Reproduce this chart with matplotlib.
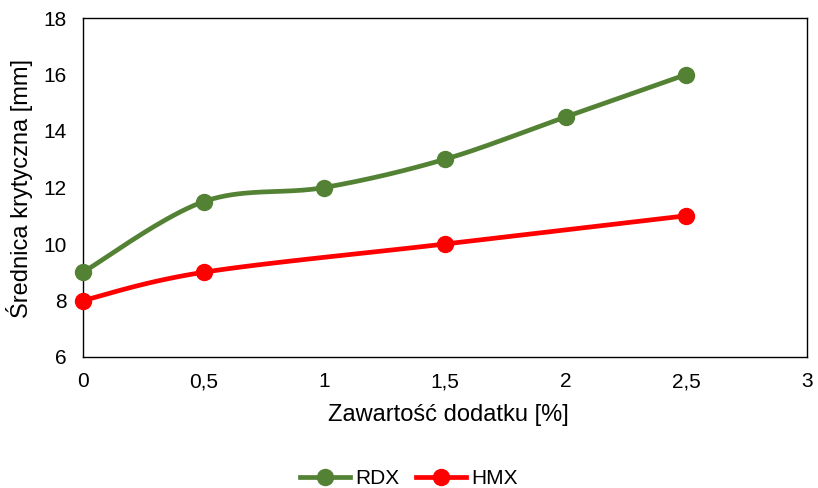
import matplotlib.pyplot as plt
import numpy as np

plt.rcParams['font.family'] = ['Liberation Sans', 'DejaVu Sans']

rdx_x = [0, 0.5, 1, 1.5, 2, 2.5]
rdx_y = [9, 11.5, 12, 13, 14.5, 16]
hmx_x = [0, 0.5, 1.5, 2.5]
hmx_y = [8, 9, 10, 11]
x_ticks = [0, 0.5, 1, 1.5, 2, 2.5, 3]
x_tick_labels = ['0', '0,5', '1', '1,5', '2', '2,5', '3']
y_ticks = [6, 8, 10, 12, 14, 16, 18]


def smooth(xs, ys, n=40):
    # Excel-like smoothed line: cubic Bezier segments with Catmull-Rom control points
    p = np.column_stack([xs, ys]).astype(float)
    out = [p[0]]
    for i in range(len(p) - 1):
        p0 = p[i - 1] if i > 0 else p[i]
        p1, p2 = p[i], p[i + 1]
        p3 = p[i + 2] if i + 2 < len(p) else p[i + 1]
        c1 = p1 + (p2 - p0) / 6
        c2 = p2 - (p3 - p1) / 6
        t = np.linspace(0, 1, n)[1:, None]
        seg = (1 - t) ** 3 * p1 + 3 * (1 - t) ** 2 * t * c1 + 3 * (1 - t) * t ** 2 * c2 + t ** 3 * p2
        out.extend(seg)
    out = np.array(out)
    return out[:, 0], out[:, 1]


fig = plt.figure(figsize=(8.18, 4.88), dpi=100)
ax = fig.add_axes([83 / 818, 1 - 357 / 488, (807 - 83) / 818, (357 - 18) / 488])

green = '#548235'
red = '#FF0000'

sx, sy = smooth(rdx_x, rdx_y)
ax.plot(sx, sy, color=green, lw=3.4, solid_capstyle='round', zorder=2)
ax.plot(rdx_x, rdx_y, 'o', color=green, ms=11.5, zorder=3, clip_on=False)
sx, sy = smooth(hmx_x, hmx_y)
ax.plot(sx, sy, color=red, lw=3.4, solid_capstyle='round', zorder=2)
ax.plot(hmx_x, hmx_y, 'o', color=red, ms=11.5, zorder=3, clip_on=False)

# legend handles
ax.plot([], [], '-o', color=green, lw=3.4, ms=11.5, label='RDX')
ax.plot([], [], '-o', color=red, lw=3.4, ms=11.5, label='HMX')

ax.set_xlim(0, 3)
ax.set_ylim(6, 18)
ax.set_xticks(x_ticks)
ax.set_xticklabels(x_tick_labels)
ax.set_yticks(y_ticks)
ax.tick_params(length=0, labelsize=15, colors='#000000')
ax.tick_params(axis='x', pad=11)
ax.tick_params(axis='y', pad=12)
for s in ax.spines.values():
    s.set_linewidth(1.0)
    s.set_color('black')

fig.text(448 / 818, 1 - 415 / 488, 'Zawartość dodatku [%]', fontsize=17, ha='center', va='center')
fig.text(20 / 818, 1 - 188 / 488, 'Średnica krytyczna [mm]', fontsize=17, ha='center', va='center',
         rotation=90)

handles, labels = ax.get_legend_handles_labels()
fig.legend(handles[-2:], labels[-2:], loc='center', bbox_to_anchor=(0.5, 1 - 479 / 488),
           ncol=2, frameon=False, fontsize=15, handlelength=2.4, handletextpad=0.25,
           columnspacing=0.8)

fig.savefig('out.png', dpi=100)
